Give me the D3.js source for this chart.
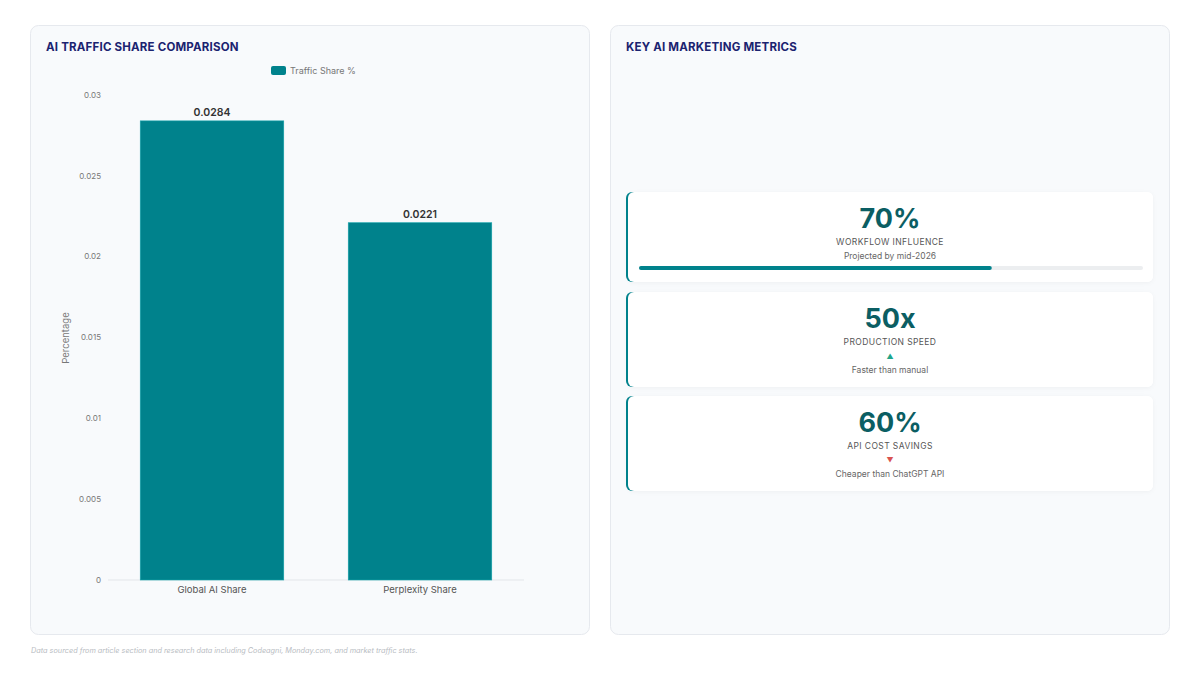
<!DOCTYPE html>
<html>
<head>
<meta charset="utf-8">
<script src="https://cdn.jsdelivr.net/npm/d3@7"></script>
<style>
  html, body { margin: 0; padding: 0; background: #ffffff; }
  svg { display: block; font-family: Inter, "Noto Sans", sans-serif; }
</style>
</head>
<body>
<svg id="chart"></svg>
<script>
(function(){
    "use strict";

    // bar chart data
    var categories = ["Global AI Share", "Perplexity Share"];
    var shareValues = [0.0284, 0.0221];
    var yTicks = [0, 0.005, 0.01, 0.015, 0.02, 0.025, 0.03];

    // metric cards
    var metricValues = ["70%", "50x", "60%"];
    var metricLabels = ["WORKFLOW INFLUENCE", "PRODUCTION SPEED", "API COST SAVINGS"];
    var metricNotes = ["Projected by mid-2026", "Faster than manual", "Cheaper than ChatGPT API"];
    var metricTrend = ["progress", "up", "down"];
    var metricProgress = [70, null, null];

    var width = 1200,
        height = 675,
        teal = "#00828c";

    var svg = d3.select("svg#chart")
        .attr("width", width)
        .attr("height", height);

    // panels
    var panels = [{x: 30.5, title: "AI TRAFFIC SHARE COMPARISON"}, {x: 610.5, title: "KEY AI MARKETING METRICS"}];
    svg.selectAll("rect.panel")
        .data(panels)
        .enter().append("rect")
        .attr("class", "panel")
        .attr("x", function(d) { return d.x; })
        .attr("y", 25.5)
        .attr("width", 559)
        .attr("height", 609)
        .attr("rx", 8)
        .attr("fill", "#f8fafc")
        .attr("stroke", "#e6e9ee");

    svg.selectAll("text.ptitle")
        .data(panels)
        .enter().append("text")
        .attr("class", "ptitle")
        .attr("x", function(d) { return d.x + 15.5; })
        .attr("y", 51)
        .attr("fill", "#1b2370")
        .attr("font-size", 11.5)
        .attr("font-weight", 700)
        .attr("letter-spacing", 0.2)
        .text(function(d) { return d.title; });

    // legend
    svg.append("rect")
        .attr("x", 271).attr("y", 66).attr("width", 15).attr("height", 9)
        .attr("rx", 2).attr("fill", teal);
    svg.append("text")
        .attr("x", 290).attr("y", 74)
        .attr("font-size", 9)
        .attr("fill", "#777")
        .text("Traffic Share %");

    // bar chart
    var x = d3.scaleBand()
        .domain(categories)
        .range([108, 524]);

    var y = d3.scaleLinear()
        .domain([0, 0.03])
        .range([580, 95]);

    var g = svg.append("g");

    g.append("line")
        .attr("x1", 108).attr("x2", 524)
        .attr("y1", y(0)).attr("y2", y(0))
        .attr("stroke", "#e3e6ea");

    g.selectAll("text.ytick")
        .data(yTicks)
        .enter().append("text")
        .attr("class", "ytick")
        .attr("x", 101)
        .attr("y", function(d) { return y(d); })
        .attr("dy", "0.35em")
        .attr("text-anchor", "end")
        .attr("font-size", 8)
        .attr("fill", "#777")
        .text(function(d) { return d3.format("")(d); });

    g.append("text")
        .attr("transform", "translate(69,338) rotate(-90)")
        .attr("text-anchor", "middle")
        .attr("font-size", 9.5)
        .attr("fill", "#777")
        .text("Percentage");

    var barW = x.bandwidth() * 0.69;
    var bars = categories.map(function(c, i) { return {cat: c, val: shareValues[i]}; });

    g.selectAll("rect.bar")
        .data(bars)
        .enter().append("rect")
        .attr("class", "bar")
        .attr("x", function(d) { return x(d.cat) + (x.bandwidth() - barW) / 2; })
        .attr("y", function(d) { return y(d.val); })
        .attr("width", barW)
        .attr("height", function(d) { return y(0) - y(d.val); })
        .attr("fill", teal)
        .attr("stroke", "#14a3ab")
        .attr("stroke-width", 0.6);

    g.selectAll("text.val")
        .data(bars)
        .enter().append("text")
        .attr("class", "val")
        .attr("x", function(d) { return x(d.cat) + x.bandwidth() / 2; })
        .attr("y", function(d) { return y(d.val) - 5; })
        .attr("text-anchor", "middle")
        .attr("font-size", 10.5)
        .attr("font-weight", 600)
        .attr("fill", "#333")
        .text(function(d) { return d.val; });

    g.selectAll("text.xtick")
        .data(categories)
        .enter().append("text")
        .attr("class", "xtick")
        .attr("x", function(d) { return x(d) + x.bandwidth() / 2; })
        .attr("y", 593)
        .attr("text-anchor", "middle")
        .attr("font-size", 9.5)
        .attr("fill", "#555")
        .text(function(d) { return d; });

    // metric cards
    var cardTops = [192, 292, 396],
        cardHeights = [90, 95, 95],
        cx = 890;

    var defs = svg.append("defs");
    var f = defs.append("filter").attr("id", "shadow")
        .attr("x", "-5%").attr("y", "-20%").attr("width", "110%").attr("height", "140%");
    f.append("feDropShadow").attr("dx", 0).attr("dy", 1).attr("stdDeviation", 2)
        .attr("flood-color", "#000").attr("flood-opacity", 0.04);

    var metrics = metricValues.map(function(v, i) {
        return {value: v, label: metricLabels[i], note: metricNotes[i],
                trend: metricTrend[i], progress: metricProgress[i],
                top: cardTops[i], h: cardHeights[i]};
    });

    var cards = svg.selectAll("g.card")
        .data(metrics)
        .enter().append("g")
        .attr("class", "card")
        .attr("transform", function(d) { return "translate(0," + d.top + ")"; });

    cards.append("rect")
        .attr("x", 628).attr("y", 0)
        .attr("width", 525)
        .attr("height", function(d) { return d.h; })
        .attr("rx", 6)
        .attr("fill", "#ffffff")
        .attr("filter", "url(#shadow)");
    cards.append("rect")
        .attr("x", 626).attr("y", 0)
        .attr("width", 30)
        .attr("height", function(d) { return d.h; })
        .attr("rx", 6)
        .attr("fill", teal);
    cards.append("rect")
        .attr("x", 628).attr("y", 0)
        .attr("width", 525)
        .attr("height", function(d) { return d.h; })
        .attr("rx", 6)
        .attr("fill", "#ffffff");

    cards.append("text")
        .attr("x", cx).attr("y", 36)
        .attr("text-anchor", "middle")
        .attr("font-size", 27)
        .attr("font-weight", 700)
        .attr("fill", "#0b5e63")
        .text(function(d) { return d.value; });

    cards.append("text")
        .attr("x", cx).attr("y", 53)
        .attr("text-anchor", "middle")
        .attr("font-size", 8.5)
        .attr("letter-spacing", 0.4)
        .attr("fill", "#555")
        .text(function(d) { return d.label; });

    cards.filter(function(d) { return d.trend !== "progress"; })
        .append("text")
        .attr("x", cx).attr("y", 67)
        .attr("text-anchor", "middle")
        .attr("font-size", 7)
        .attr("fill", function(d) { return d.trend === "up" ? "#20a58a" : "#d9534f"; })
        .text(function(d) { return d.trend === "up" ? "\u25B2" : "\u25BC"; });

    cards.append("text")
        .attr("x", cx)
        .attr("y", function(d) { return d.trend === "progress" ? 67 : 81; })
        .attr("text-anchor", "middle")
        .attr("font-size", 8.5)
        .attr("fill", "#666")
        .text(function(d) { return d.note; });

    var prog = d3.scaleLinear().domain([0, 100]).range([639, 1143]);
    var pc = cards.filter(function(d) { return d.progress != null; });
    pc.append("rect")
        .attr("x", prog(0)).attr("y", 74)
        .attr("width", prog(100) - prog(0)).attr("height", 4)
        .attr("rx", 2).attr("fill", "#eceef0");
    pc.append("rect")
        .attr("x", prog(0)).attr("y", 74)
        .attr("width", function(d) { return prog(d.progress) - prog(0); })
        .attr("height", 4)
        .attr("rx", 2).attr("fill", teal);

    // footer
    svg.append("text")
        .attr("x", 31).attr("y", 653)
        .attr("font-size", 7.3)
        .attr("font-style", "italic")
        .attr("fill", "#b8bcc2")
        .text("Data sourced from article section and research data including Codeagni, Monday.com, and market traffic stats.");
})();
</script>
</body>
</html>
